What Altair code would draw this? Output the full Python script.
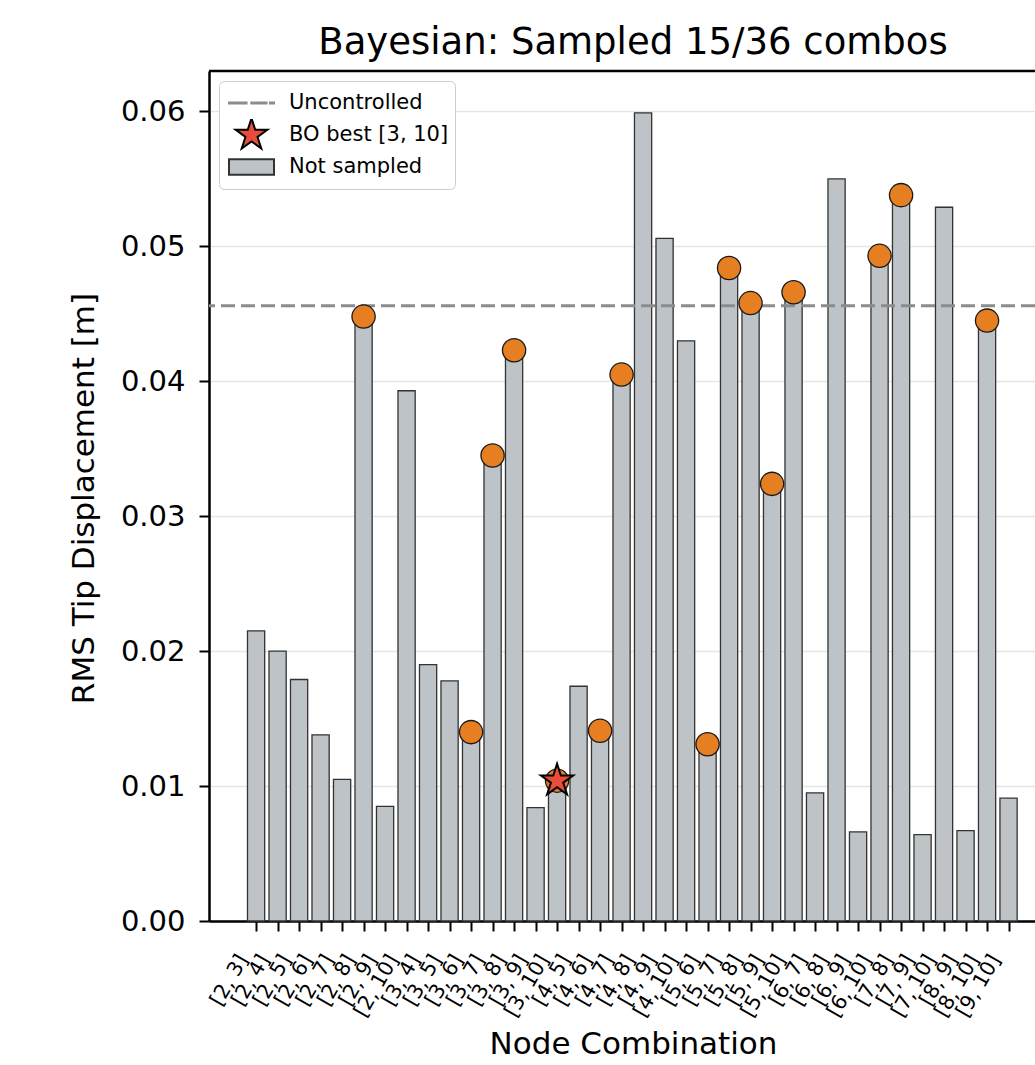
import altair as alt
import pandas as pd

# ---------------- data ----------------
combos = ["[2, 3]", "[2, 4]", "[2, 5]", "[2, 6]", "[2, 7]", "[2, 8]", "[2, 9]", "[2, 10]",
          "[3, 4]", "[3, 5]", "[3, 6]", "[3, 7]", "[3, 8]", "[3, 9]", "[3, 10]",
          "[4, 5]", "[4, 6]", "[4, 7]", "[4, 8]", "[4, 9]", "[4, 10]",
          "[5, 6]", "[5, 7]", "[5, 8]", "[5, 9]", "[5, 10]",
          "[6, 7]", "[6, 8]", "[6, 9]", "[6, 10]",
          "[7, 8]", "[7, 9]", "[7, 10]",
          "[8, 9]", "[8, 10]",
          "[9, 10]"]
rms = [0.0215, 0.0200, 0.0179, 0.0138, 0.0105, 0.0448, 0.0085, 0.0393,
       0.0190, 0.0178, 0.0140, 0.0345, 0.0423, 0.0084, 0.0104,
       0.0174, 0.0141, 0.0405, 0.0599, 0.0506, 0.0430,
       0.0131, 0.0484, 0.0458, 0.0324, 0.0466,
       0.0095, 0.0550, 0.0066, 0.0493,
       0.0538, 0.0064, 0.0529,
       0.0067, 0.0445,
       0.0091]
sampled_combos = ["[2, 8]", "[3, 6]", "[3, 7]", "[3, 8]", "[3, 10]", "[4, 6]", "[4, 7]",
                  "[5, 6]", "[5, 7]", "[5, 8]", "[5, 9]", "[5, 10]", "[6, 10]", "[7, 8]", "[8, 10]"]
best_combo = "[3, 10]"
uncontrolled = 0.0456
y_ticks = [0.00, 0.01, 0.02, 0.03, 0.04, 0.05, 0.06]
legend_labels = ["Uncontrolled", "BO best [3, 10]", "Not sampled"]
chart_title = "Bayesian: Sampled 15/36 combos"
x_title = "Node Combination"
y_title = "RMS Tip Displacement [m]"

# ---------------- styling ----------------
FONT = "DejaVu Sans"
BAR_FILL = "#bdc3c7"
BAR_EDGE = "#333333"
ORANGE = "#e67e22"
RED = "#e74c3c"
DASH_GRAY = "#8c8c8c"

star_pts = [(0, -1), (0.2245, -0.309), (0.9511, -0.309), (0.3633, 0.118), (0.5878, 0.809),
            (0, 0.382), (-0.5878, 0.809), (-0.3633, 0.118), (-0.9511, -0.309), (-0.2245, -0.309)]


def star_path(k):
    return "M" + "L".join(f"{x*k:.4f},{y*k:.4f}" for x, y in star_pts) + "Z"


STAR = star_path(1.0)
# legend symbols (unit box scaled by sqrt(symbolSize)/2)
LEG_DASH = ("M-1,-0.02H-0.22V0.02H-1Z M-0.01,-0.02H0.67V0.02H-0.01Z "
            "M0.82,-0.02H1V0.02H0.82Z")
LEG_STAR = star_path(0.74)
LEG_RECT = "M-1,-0.34H1V0.34H-1Z"

df = pd.DataFrame({"combo": combos, "rms": rms, "idx": list(range(len(combos)))})
df["sampled"] = df["combo"].isin(sampled_combos)
df["best"] = df["combo"] == best_combo

label_expr = "[" + ",".join(f"'{c}'" for c in combos) + "][datum.value]"

W, H = 826, 850
x_scale = alt.Scale(domain=[-2.19, 36.23], nice=False, zero=False)
y_scale = alt.Scale(domain=[0, 0.063], nice=False)

x_axis = alt.Axis(values=list(range(len(combos))), tickCount=100, labelExpr=label_expr,
                  title=x_title, grid=False, labelAngle=300, labelAlign="right",
                  labelBaseline="alphabetic", labelOffset=-8, labelPadding=28,
                  labelFontSize=20.5, tickSize=10, tickWidth=2, tickColor="black",
                  domainColor="black", domainWidth=2.5, labelColor="black",
                  titleColor="black", titleFontSize=31, titleFontWeight="normal",
                  titleX=424, titleY=132, titleAlign="center", titleBaseline="alphabetic",
                  labelOverlap=False, labelFlush=False)
y_axis = alt.Axis(values=y_ticks, format=".2f", title=y_title, grid=True,
                  gridColor="#e6e6e6", gridWidth=1.5, labelFontSize=29, labelPadding=14,
                  tickSize=10, tickWidth=2, tickColor="black", domainColor="black",
                  domainWidth=2.5, labelColor="black", titleColor="black", titleFontSize=31,
                  titleFontWeight="normal", titleAngle=270, titleX=-116, titleY=427,
                  titleAlign="center", titleBaseline="alphabetic")

base = alt.Chart(df)

bars = base.transform_calculate(lo="datum.idx - 0.4", hi="datum.idx + 0.4").mark_bar(
    fill=BAR_FILL, stroke=BAR_EDGE, strokeWidth=1.3
).encode(
    x=alt.X("lo:Q", scale=x_scale, axis=x_axis),
    x2="hi:Q",
    y=alt.Y("rms:Q", scale=y_scale, axis=y_axis),
    y2=alt.datum(0),
)

rule = alt.Chart(pd.DataFrame({"u": [uncontrolled]})).mark_rule(
    stroke=DASH_GRAY, strokeWidth=3, strokeDash=[14, 6]
).encode(y=alt.Y("u:Q", scale=y_scale, title=y_title))

points = base.transform_filter("datum.sampled").mark_point(
    shape="circle", filled=True, fill=ORANGE, stroke="#1a1a1a", strokeWidth=1.3,
    size=540, opacity=1
).encode(
    x=alt.X("idx:Q", scale=x_scale, title=x_title),
    y=alt.Y("rms:Q", scale=y_scale, title=y_title),
)

star = base.transform_filter("datum.best").mark_point(
    shape=STAR, filled=True, fill=RED, stroke="black", strokeWidth=2,
    size=1150, opacity=1
).encode(
    x=alt.X("idx:Q", scale=x_scale, title=x_title),
    y=alt.Y("rms:Q", scale=y_scale, title=y_title),
)

top_spine = alt.Chart(pd.DataFrame({"u": [0]})).mark_rule(
    color="black", strokeWidth=2.5
).encode(y=alt.value(0))

legend_layer = alt.Chart(pd.DataFrame({"entry": legend_labels})).mark_point(
    filled=True, clip=True, opacity=1
).encode(
    x=alt.value(-400), y=alt.value(-400),
    fill=alt.Fill("entry:N", scale=alt.Scale(domain=legend_labels,
                                             range=[DASH_GRAY, RED, BAR_FILL]),
                  legend=alt.Legend(title=None, orient="none", legendX=10, legendY=10,
                                    symbolSize=2025, clipHeight=32, rowPadding=0,
                                    padding=6, symbolOffset=3, labelOffset=14,
                                    labelFontSize=21, labelColor="black", labelLimit=400,
                                    fillColor="white", strokeColor="#cccccc",
                                    cornerRadius=5, symbolStrokeWidth=2)),
    stroke=alt.Stroke("entry:N", scale=alt.Scale(domain=legend_labels,
                                                 range=[DASH_GRAY, "black", BAR_EDGE])),
    shape=alt.Shape("entry:N", scale=alt.Scale(domain=legend_labels,
                                               range=[LEG_DASH, LEG_STAR, LEG_RECT])),
)

chart = alt.layer(bars, rule, points, star, top_spine, legend_layer).properties(
    width=W, height=H,
    title=alt.TitleParams(chart_title, fontSize=37, font=FONT, fontWeight="normal",
                          anchor="middle", frame="group", dx=11, dy=36, offset=15,
                          baseline="alphabetic", color="black"),
    autosize=alt.AutoSizeParams(type="none"),
    padding={"left": 209, "right": 0, "top": 71, "bottom": 139},
).configure(font=FONT, background="white").configure_view(stroke=None)

chart.save("out.html", embed_options={"renderer": "svg", "actions": False})
